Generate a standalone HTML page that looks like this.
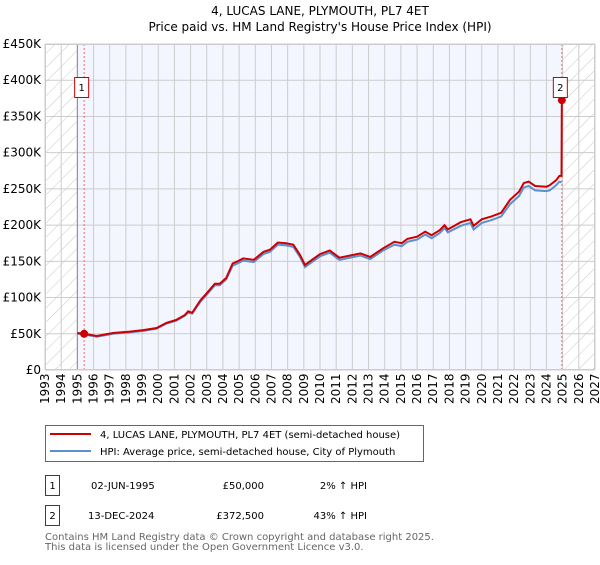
<!DOCTYPE html>
<html><head><meta charset="utf-8"><style>
body{margin:0;background:#fff;}
svg text{font-family:"DejaVu Sans","Liberation Sans",sans-serif;}
</style></head><body>
<svg id="chart" width="600" height="560" xmlns="http://www.w3.org/2000/svg">
<defs>
<pattern id="hatch" patternUnits="userSpaceOnUse" width="10" height="10" patternTransform="rotate(45)">
<rect x="0" y="0" width="10" height="10" fill="#fff"/>
<line x1="0" y1="0" x2="0" y2="10" stroke="#c8c8c8" stroke-width="1"/>
</pattern>
</defs>
<text x="320" y="15" font-size="12" text-anchor="middle">4, LUCAS LANE, PLYMOUTH, PL7 4ET</text>
<text x="320" y="31" font-size="12" text-anchor="middle">Price paid vs. HM Land Registry's House Price Index (HPI)</text>
<g id="plot"></g>
<g>
<rect x="45.5" y="425.5" width="378" height="36" fill="#fff" stroke="#666"/>
<line x1="50" y1="434" x2="91" y2="434" stroke="#cc0000" stroke-width="2"/>
<text x="100" y="438" font-size="10">4, LUCAS LANE, PLYMOUTH, PL7 4ET (semi-detached house)</text>
<line x1="50" y1="451" x2="91" y2="451" stroke="#5b8fd0" stroke-width="2"/>
<text x="100" y="455" font-size="10">HPI: Average price, semi-detached house, City of Plymouth</text>
</g>
<g font-size="10">
<rect x="45.5" y="475.5" width="14" height="20" fill="#fff" stroke="#cc0000"/>
<text x="52.5" y="489" text-anchor="middle">1</text>
<text x="91" y="489">02-JUN-1995</text>
<text x="264" y="489" text-anchor="end">£50,000</text>
<text x="367" y="489" text-anchor="end">2% ↑ HPI</text>
<rect x="45.5" y="505.5" width="14" height="20" fill="#fff" stroke="#cc0000"/>
<text x="52.5" y="519" text-anchor="middle">2</text>
<text x="88" y="519">13-DEC-2024</text>
<text x="264" y="519" text-anchor="end">£372,500</text>
<text x="367" y="519" text-anchor="end">43% ↑ HPI</text>
</g>
<text x="45" y="540" font-size="10" fill="#666">Contains HM Land Registry data © Crown copyright and database right 2025.</text>
<text x="45" y="550" font-size="10" fill="#666">This data is licensed under the Open Government Licence v3.0.</text>
</svg>
<script>
const years=[1995.0,1995.42,1996.2,1997.2,1998.25,1999.07,1999.9,2000.5,2001.1,2001.65,2001.85,2002.1,2002.6,2003.0,2003.5,2003.8,2004.2,2004.6,2004.9,2005.25,2005.9,2006.5,2006.9,2007.4,2007.9,2008.35,2008.76,2009.07,2010.0,2010.6,2011.2,2012.5,2013.1,2013.9,2014.6,2015.05,2015.4,2016.0,2016.5,2016.9,2017.4,2017.7,2017.9,2018.7,2019.3,2019.5,2020.0,2020.6,2021.2,2021.75,2022.3,2022.6,2022.9,2023.3,2024.0,2024.2,2024.6,2024.8,2024.93];
const priceLine=[51,50,47,51,53,55,58,65,69,76,81,79,96,106,119,119,127,147,150,154,152,163,166,176,175,173,159,145,160,165,155,161,156,168,177,175,181,184,191,186,193,200,194,204,208,199,208,212,217,235,246,258,260,254,253,255,262,268,268];
const hpiLine=[50,49,46,50,52,54,57,64,68,75,79,78,94,104,117,117,125,144,147,151,149,160,163,173,172,170,156,142,157,162,152,158,153,165,173,171,177,180,187,182,189,196,190,199,203,194,203,207,212,229,240,252,254,248,247,248,255,260,259];
const sales=[[1995.42,50],[2024.95,372.5]];
const yTicks=[0,50,100,150,200,250,300,350,400,450];
const xTicks=[1993,1994,1995,1996,1997,1998,1999,2000,2001,2002,2003,2004,2005,2006,2007,2008,2009,2010,2011,2012,2013,2014,2015,2016,2017,2018,2019,2020,2021,2022,2023,2024,2025,2026,2027];
const X0=45,X1=595,Y0=370,Y1=44;
const xs=y=>X0+(y-1993)/(2027-1993)*(X1-X0);
const ys=v=>Y0-v/450*(Y0-Y1);
const NS="http://www.w3.org/2000/svg";
const g=document.getElementById('plot');
function mk(t,a,p){const e=document.createElementNS(NS,t);for(const k in a)e.setAttribute(k,a[k]);(p||g).appendChild(e);return e;}
let e;
e=mk('rect',{x:X0,y:Y1,width:X1-X0,height:Y0-Y1,fill:'#f3f6fe'});


e=mk('rect',{x:X0,y:Y1,width:xs(1995)-X0,height:Y0-Y1,fill:'url(#hatch)'});


e=mk('rect',{x:xs(2025),y:Y1,width:X1-xs(2025),height:Y0-Y1,fill:'url(#hatch)'});


yTicks.forEach(v=>{
 e=mk('line',{x1:X0,x2:X1,y1:ys(v),y2:ys(v),stroke:'#cccccc'});
 
 
 e=mk('text',{x:X0-4,y:ys(v)+4,'font-size':12,'text-anchor':'end'});
 e.textContent=v===0?'£0':'£'+v+'K';
 
 
});
xTicks.forEach(v=>{
 e=mk('line',{x1:xs(v),x2:xs(v),y1:Y1,y2:Y0,stroke:'#cccccc'});
 
 
 const x=xs(v)+4;
 e=mk('text',{x:x,y:404,'font-size':12,'text-anchor':'start',transform:`rotate(-90 ${x} 404)`});
 e.textContent=v;
 
 
});
e=mk('line',{x1:xs(1995),x2:xs(1995),y1:Y1,y2:Y0,stroke:'#888'});


sales.forEach(s=>{
 e=mk('line',{x1:xs(s[0]),x2:xs(s[0]),y1:Y1,y2:Y0,stroke:'#ff6666','stroke-dasharray':'2,2'});
 
 
});
e=mk('polyline',{points:years.map((y,i)=>xs(y)+','+ys(hpiLine[i])).join(' '),fill:'none',stroke:'#5b8fd0','stroke-width':2});


const pts=years.map((y,i)=>xs(y)+','+ys(priceLine[i]));
pts.push(xs(sales[1][0])+','+ys(sales[1][1]));
e=mk('polyline',{points:pts.join(' '),fill:'none',stroke:'#cc0000','stroke-width':2});


sales.forEach((s,i)=>{
 e=mk('circle',{cx:xs(s[0]),cy:ys(s[1]),r:4,fill:'#cc0000'});
 
 
 const bx=xs(s[0])-(i===0?2:1);
 e=mk('rect',{x:bx-7.5,y:77.5,width:14,height:20,fill:'#fff',stroke:'#cc0000'});
 
 
 e=mk('text',{x:bx-0.5,y:91,'font-size':10,'text-anchor':'middle'});
 e.textContent=String(i+1);
 
 
});
e=mk('rect',{x:X0+0.5,y:Y1+0.5,width:X1-X0-1,height:Y0-Y1-1,fill:'none',stroke:'#cccccc'});


</script>
</body></html>
